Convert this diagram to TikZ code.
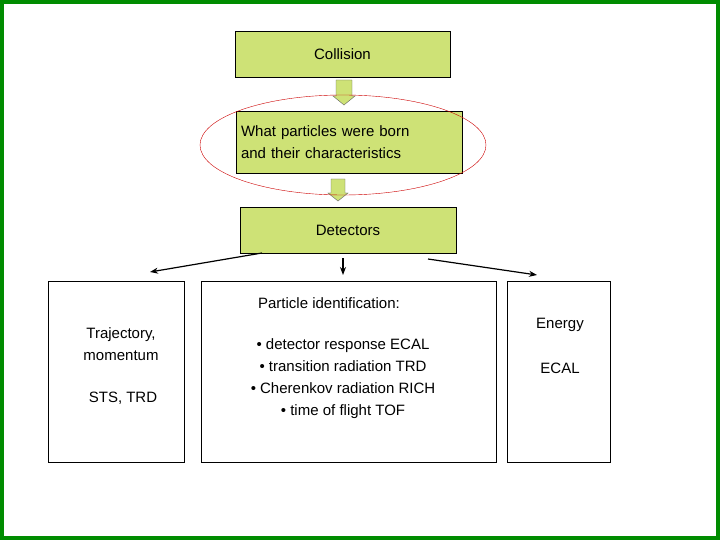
\documentclass[tikz,border=0pt]{standalone}
\usepackage{fontspec}
\setmainfont{Liberation Sans}
\usetikzlibrary{arrows.meta}
\definecolor{boxgreen}{RGB}{206,226,118}
\definecolor{frame}{RGB}{0,140,0}
\begin{document}
\begin{tikzpicture}[x=1pt,y=-1pt,font=\fontsize{15}{22}\selectfont,
  gbox/.style={draw=black,fill=boxgreen,minimum height=46pt,inner sep=0pt},
  wbox/.style={draw=black,fill=white,inner sep=0pt,minimum height=181pt},
  line/.style={draw=black,line width=1.2pt,-{Stealth[length=8pt,width=6pt]}},
  blockarrow/.style={draw=black!60,fill=boxgreen,line width=0.4pt}]
\useasboundingbox (0,0) rectangle (720,540);
\draw[frame,line width=4pt] (2,2) rectangle (718,538);
% top chain
\node[gbox,minimum width=215pt] (coll) at (342.5,54) {Collision};
\node[gbox,minimum width=226pt,minimum height=62pt,align=left,text width=216pt] (born) at (349,142)
  {What particles were born\\and their characteristics};
\node[gbox,minimum width=216pt] (det) at (348,230) {Detectors};
\draw[blockarrow] (336,80) -- (352,80) -- (352,96) -- (355,96) -- (344,105) -- (333,96) -- (336,96) -- cycle;
\draw[blockarrow] (331,179) -- (345,179) -- (345,193) -- (348,193) -- (338,201) -- (328,193) -- (331,193) -- cycle;
\draw[red!80!black,thin] (343,145) ellipse [x radius=143pt,y radius=50pt];
% lower boxes
\node[wbox,minimum width=136pt] (traj) at (116,371.5) {};
\node[wbox,minimum width=295pt] (pid) at (348.5,371.5) {};
\node[wbox,minimum width=103pt] (en) at (558.5,371.5) {};
\node[align=center] (tt) at (121,344) {Trajectory,\\momentum};
\node (sts) at (123,398) {STS, TRD};
\node (pt) at (329,303) {Particle identification:};
\node[align=center] (pl) at (343,379)
  {• detector response ECAL\\• transition radiation TRD\\• Cherenkov radiation RICH\\• time of flight TOF};
\node (e1) at (560,325) {Energy};
\node (e2) at (560,368) {ECAL};
% connectors
\coordinate (a1) at (262,253); \coordinate (b1) at (150,272);
\coordinate (a2) at (343,258); \coordinate (b2) at (343,275);
\coordinate (a3) at (428,259); \coordinate (b3) at (537,275);
\draw[line] (a1) -- (b1);
\draw[line] (a2) -- (b2);
\draw[line] (a3) -- (b3);
\end{tikzpicture}
\end{document}
